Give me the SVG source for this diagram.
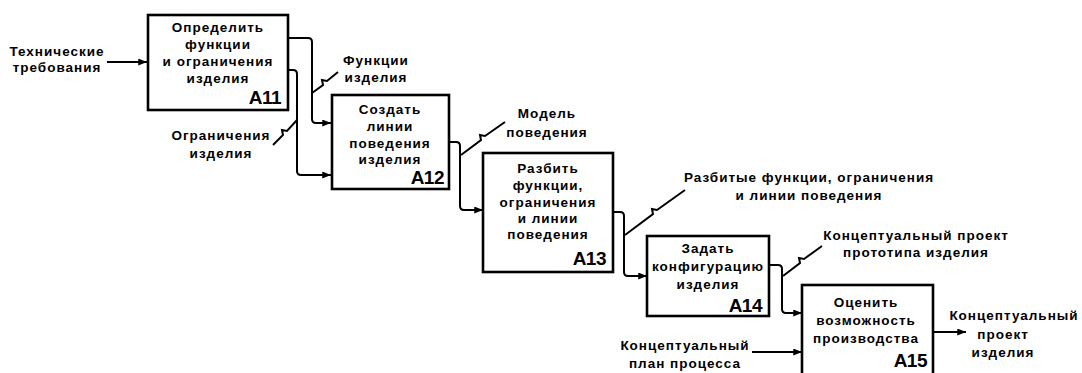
<svg xmlns="http://www.w3.org/2000/svg" width="1082" height="373" viewBox="0 0 1082 373">
<style>
.box{fill:#fff;stroke:#000;stroke-width:2.6}
.t{font-family:"Liberation Sans",Arial,sans-serif;font-weight:bold;font-size:13.5px;letter-spacing:1px;fill:#000;text-anchor:middle}
.id{font-family:"Liberation Sans",Arial,sans-serif;font-weight:bold;font-size:19px;letter-spacing:-0.5px;fill:#000;text-anchor:end}
.c{fill:none;stroke:#000;stroke-width:2}
.a{marker-end:url(#ah)}
</style>
<defs>
<marker id="ah" viewBox="0 0 10 8" refX="10" refY="4" markerWidth="9" markerHeight="7" markerUnits="userSpaceOnUse" orient="auto">
<path d="M0,0 L10,4 L0,8 Z" fill="#000"/>
</marker>
</defs>
<rect width="1082" height="373" fill="#fff"/>

<g id="connectors">
<path class="c a" d="M107,62 H147"/>
<path class="c a" d="M288,38 H308 Q312,38 312,42 V119 Q312,123 316,123 H331"/>
<path class="c a" d="M288,70 H293 Q297,70 297,74 V171 Q297,175 301,175 H331"/>
<path class="c a" d="M449,142 H456 Q460,142 460,146 V206 Q460,210 464,210 H483"/>
<path class="c a" d="M613,212 H620 Q624,212 624,216 V272 Q624,276 628,276 H647"/>
<path class="c a" d="M769,265 H778 Q782,265 782,269 V309 Q782,313 786,313 H802"/>
<path class="c a" d="M752,352 H802"/>
<path class="c a" d="M933,332 H966"/>
<path class="c" d="M312,93 L323,85 L322,80 L327,81 L338,72"/>
<path class="c" d="M273,145 L283,135 L282,130 L287,131 L297,120"/>
<path class="c" d="M461,155 L481,140 L480,135 L485,136 L505,122"/>
<path class="c" d="M625,235 L653,214 L652,209 L657,210 L685,190"/>
<path class="c" d="M783,276 L800,263 L799,258 L804,259 L822,246"/>
</g>

<g id="A11">
<rect class="box" x="148" y="15" width="140" height="95"/>
<text class="t" x="218" y="32">Определить</text>
<text class="t" x="218" y="49">функции</text>
<text class="t" x="218" y="66">и ограничения</text>
<text class="t" x="218" y="83">изделия</text>
<text class="id" x="281" y="104">A11</text>
</g>

<g id="A12">
<rect class="box" x="332" y="95" width="117" height="94"/>
<text class="t" x="390" y="114">Создать</text>
<text class="t" x="390" y="131">линии</text>
<text class="t" x="390" y="148">поведения</text>
<text class="t" x="390" y="164">изделия</text>
<text class="id" x="444" y="184">A12</text>
</g>

<g id="A13">
<rect class="box" x="483" y="153" width="130" height="119"/>
<text class="t" x="548" y="173">Разбить</text>
<text class="t" x="548" y="190">функции,</text>
<text class="t" x="548" y="207">ограничения</text>
<text class="t" x="548" y="223">и линии</text>
<text class="t" x="548" y="239">поведения</text>
<text class="id" x="606" y="265">A13</text>
</g>

<g id="A14">
<rect class="box" x="647" y="236" width="122" height="80"/>
<text class="t" x="708" y="253">Задать</text>
<text class="t" x="708" y="271">конфигурацию</text>
<text class="t" x="708" y="289">изделия</text>
<text class="id" x="762" y="312">A14</text>
</g>

<g id="A15">
<rect class="box" x="802" y="285" width="131" height="100"/>
<text class="t" x="866" y="307">Оценить</text>
<text class="t" x="866" y="325">возможность</text>
<text class="t" x="866" y="343">производства</text>
<text class="id" x="927" y="367">A15</text>
</g>

<g id="labels">
<text class="t" x="57" y="56">Технические</text>
<text class="t" x="57" y="72">требования</text>
<text class="t" x="376" y="65">Функции</text>
<text class="t" x="376" y="82">изделия</text>
<text class="t" x="221" y="140">Ограничения</text>
<text class="t" x="221" y="158">изделия</text>
<text class="t" x="547" y="118">Модель</text>
<text class="t" x="547" y="137">поведения</text>
<text class="t" x="809" y="182">Разбитые функции, ограничения</text>
<text class="t" x="809" y="200">и линии поведения</text>
<text class="t" x="916" y="240">Концептуальный проект</text>
<text class="t" x="916" y="257">прототипа изделия</text>
<text class="t" x="685" y="350">Концептуальный</text>
<text class="t" x="685" y="368">план процесса</text>
<text class="t" x="1014" y="320">Концептуальный</text>
<text class="t" x="1003" y="339">проект</text>
<text class="t" x="1003" y="357">изделия</text>
</g>
</svg>
